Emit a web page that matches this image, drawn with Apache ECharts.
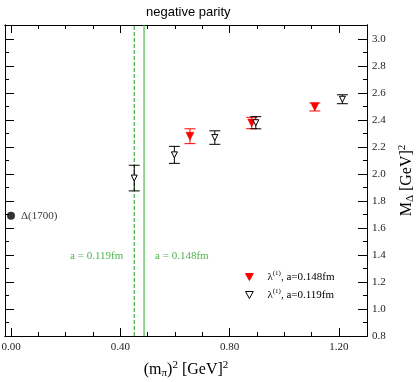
<!DOCTYPE html>
<html>
<head>
<meta charset="utf-8">
<script src="https://cdn.jsdelivr.net/npm/echarts@6/dist/echarts.min.js"></script>
<style>
  html, body { margin: 0; padding: 0; background: #fff; }
  #chart { width: 419px; height: 382px; }
</style>
</head>
<body>
<div id="chart"></div>
<script>
// lambda(1), a=0.119fm (open triangles)
var blackX = [0.451, 0.598, 0.746, 0.896, 1.213];
var blackY = [1.97, 2.142, 2.27, 2.38, 2.554];
var blackErr = [0.095, 0.063, 0.05, 0.045, 0.033];
// lambda(1), a=0.148fm (filled triangles)
var redX = [0.655, 0.881, 1.112];
var redY = [2.28, 2.378, 2.497];
var redErr = [0.055, 0.042, 0.03];
// experimental Delta(1700)
var expX = [0.0];
var expY = [1.69];
// physical-point lines for the two spacings
var lineDashedX = 0.451;
var lineSolidX = 0.487;
var lineLabels = ['a = 0.119fm', 'a = 0.148fm'];
var lineLabelY = 1.43;

var xMajor = [0, 0.4, 0.8, 1.2];
var xMinor = [0.1, 0.2, 0.3, 0.5, 0.6, 0.7, 0.9, 1.0, 1.1];
var yMajor = [0.8, 1.0, 1.2, 1.4, 1.6, 1.8, 2.0, 2.2, 2.4, 2.6, 2.8, 3.0];
var yMinor = [0.9, 1.1, 1.3, 1.5, 1.7, 1.9, 2.1, 2.3, 2.5, 2.7, 2.9];

var xMin = -0.022, xMax = 1.303, yMin = 0.8, yMax = 3.104;
var serif = '"Liberation Serif", "DejaVu Serif", serif';
var downTri = 'path://M0,0 L10,0 L5,9 Z';
var green = '#22a022';

function zip(xs, ys) {
  return xs.map(function (x, i) { return [x, ys[i]]; });
}
function errData(xs, ys, es) {
  return xs.map(function (x, i) { return [x, ys[i] - es[i], ys[i] + es[i]]; });
}
function errSeries(data, color) {
  return {
    type: 'custom',
    xAxisIndex: 0, yAxisIndex: 0,
    silent: true,
    z: 2,
    data: data,
    renderItem: function (params, api) {
      var lo = api.coord([api.value(0), api.value(1)]);
      var hi = api.coord([api.value(0), api.value(2)]);
      var w = 5.5;
      var st = { stroke: color, lineWidth: 1 };
      return {
        type: 'group',
        children: [
          { type: 'line', shape: { x1: lo[0], y1: lo[1], x2: hi[0], y2: hi[1] }, style: st },
          { type: 'line', shape: { x1: lo[0] - w, y1: lo[1], x2: lo[0] + w, y2: lo[1] }, style: st },
          { type: 'line', shape: { x1: hi[0] - w, y1: hi[1], x2: hi[0] + w, y2: hi[1] }, style: st }
        ]
      };
    }
  };
}
function vLine(x, type, width, color) {
  return {
    type: 'line', silent: true, symbol: 'none', z: 1,
    lineStyle: { color: color, type: type, width: width },
    itemStyle: { color: color },
    emphasis: { disabled: true },
    data: [[x, yMin], [x, yMax]]
  };
}

function xAx(pos, ticks, len, labels) {
  return {
    type: 'value', position: pos, min: xMin, max: xMax,
    axisLine: { show: true, onZero: false, lineStyle: { color: '#000', width: 1 } },
    axisTick: { show: true, inside: true, length: len, customValues: ticks, lineStyle: { color: '#000' } },
    axisLabel: labels ? {
      show: true, customValues: ticks, margin: 6, color: '#222', fontSize: 11, fontFamily: serif,
      formatter: function (v) { return v.toFixed(2); }
    } : { show: false },
    splitLine: { show: false }
  };
}
function yAx(pos, ticks, len, labels) {
  return {
    type: 'value', position: pos, min: yMin, max: yMax,
    axisLine: { show: true, onZero: false, lineStyle: { color: '#000', width: 1 } },
    axisTick: { show: true, inside: true, length: len, customValues: ticks, lineStyle: { color: '#000' } },
    axisLabel: labels ? {
      show: true, customValues: ticks, margin: 5, color: '#222', fontSize: 11, fontFamily: serif,
      formatter: function (v) { return v.toFixed(1); }
    } : { show: false },
    splitLine: { show: false }
  };
}

var nameStyle = {
  fontFamily: serif, fontSize: 16, color: '#000', lineHeight: 19,
  rich: {
    sub: { fontFamily: serif, fontSize: 11, verticalAlign: 'bottom', lineHeight: 19 },
    sup: { fontFamily: serif, fontSize: 11, verticalAlign: 'top', lineHeight: 19 }
  }
};

var xAxes = [
  xAx('bottom', xMajor, 8, true),
  xAx('bottom', xMinor, 4, false),
  xAx('top', xMajor, 8, false),
  xAx('top', xMinor, 4, false)
];
xAxes[0].name = '(m{sub|π}){sup|2} [GeV]{sup|2}';
xAxes[0].nameLocation = 'middle';
xAxes[0].nameGap = 24;
xAxes[0].nameTextStyle = nameStyle;

var yAxes = [
  yAx('right', yMajor, 9, true),
  yAx('right', yMinor, 4, false),
  yAx('left', yMajor, 9, false),
  yAx('left', yMinor, 4, false)
];
yAxes[0].name = 'M{sub|Δ} [GeV]{sup|2}';
yAxes[0].nameLocation = 'middle';
yAxes[0].nameRotate = 90;
yAxes[0].nameGap = 30;
yAxes[0].nameTextStyle = nameStyle;

var chart = echarts.init(document.getElementById('chart'), null, { renderer: 'canvas' });
chart.setOption({
  animation: false,
  backgroundColor: '#fff',
  title: {
    text: 'negative parity', left: 141, top: 1,
    textStyle: { fontFamily: '"Liberation Sans", Arial, sans-serif', fontSize: 13, fontWeight: 'normal', color: '#000' }
  },
  grid: { left: 5, right: 52, top: 25, bottom: 46, containLabel: false, outerBoundsMode: 'none' },
  xAxis: xAxes,
  yAxis: yAxes,
  legend: {
    orient: 'vertical', left: 240, top: 265, itemGap: 4,
    itemWidth: 26, itemHeight: 7,
    data: ['λ(1), a=0.148fm', 'λ(1), a=0.119fm'],
    itemStyle: { borderWidth: 1 },
    formatter: function (name) {
      return name.replace('λ(1)', '{l|λ}{s|(1)}');
    },
    textStyle: {
      fontFamily: serif, fontSize: 11, color: '#000', lineHeight: 14,
      rich: {
        l: { fontFamily: serif, fontSize: 11, lineHeight: 14 },
        s: { fontFamily: serif, fontSize: 7, verticalAlign: 'top', lineHeight: 14 }
      }
    }
  },
  series: [
    vLine(lineDashedX, [4, 2], 1, '#1a9a1a'),
    vLine(lineSolidX, 'solid', 1.2, '#4cb84c'),
    {
      name: 'lineLabels', type: 'scatter', symbolSize: 0, silent: true,
      data: [[lineDashedX, lineLabelY], [lineSolidX, lineLabelY]],
      label: {
        show: true,
        fontFamily: serif, fontSize: 11, color: green,
        formatter: function (p) { return lineLabels[p.dataIndex]; }
      },
      labelLayout: function (p) {
        return p.dataIndex === 0
          ? { x: p.rect.x - 11, align: 'right' }
          : { x: p.rect.x + 11, align: 'left' };
      }
    },
    errSeries(errData(redX, redY, redErr), '#ff0000'),
    errSeries(errData(blackX, blackY, blackErr), '#000'),
    {
      name: 'λ(1), a=0.148fm', type: 'scatter', z: 3,
      symbol: downTri, symbolSize: [8, 8],
      itemStyle: { color: '#ff0000', borderColor: '#ff0000', borderWidth: 0.5, opacity: 1 },
      data: zip(redX, redY)
    },
    {
      name: 'λ(1), a=0.119fm', type: 'scatter', z: 4,
      symbol: downTri, symbolSize: [6, 6],
      itemStyle: { color: '#fff', borderColor: '#000', borderWidth: 1, opacity: 1 },
      data: zip(blackX, blackY)
    },
    {
      name: 'Δ(1700)', type: 'scatter', z: 4,
      symbol: 'circle', symbolSize: 8,
      itemStyle: { color: '#000' },
      data: zip(expX, expY),
      label: {
        show: true, position: 'right', distance: 6,
        fontFamily: serif, fontSize: 11, color: '#000',
        formatter: 'Δ(1700)'
      }
    }
  ]
});
</script>
</body>
</html>
